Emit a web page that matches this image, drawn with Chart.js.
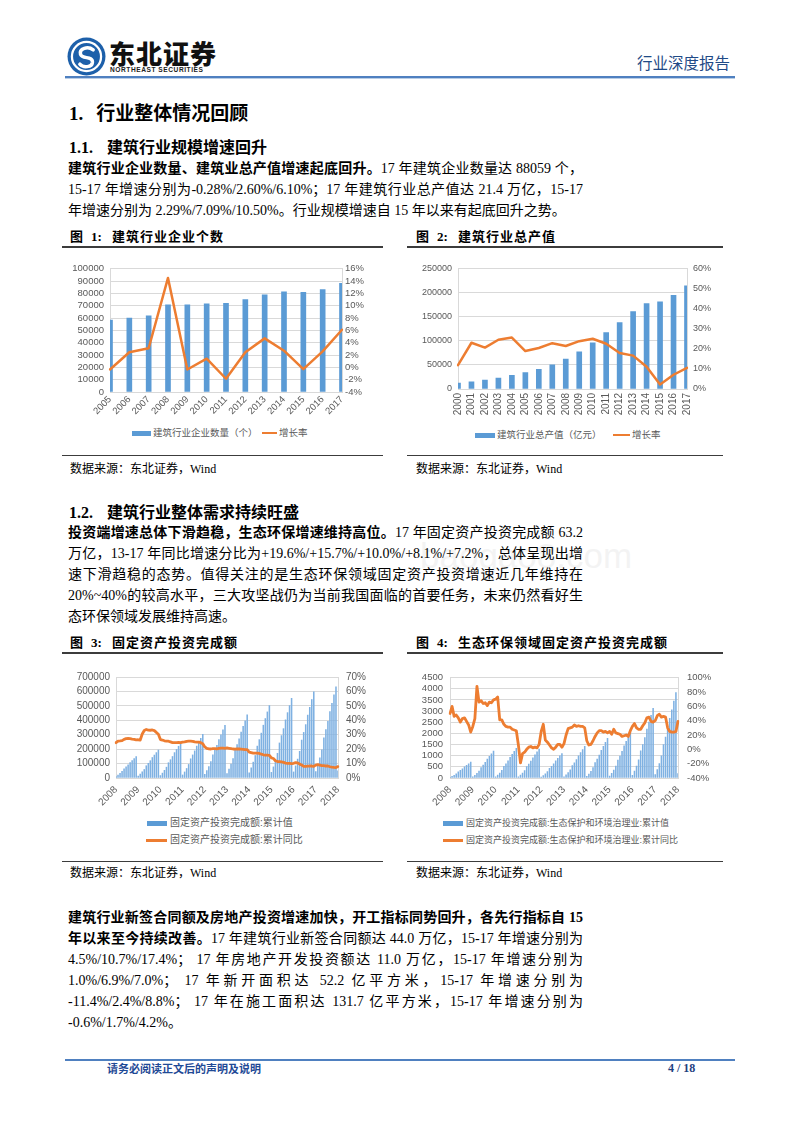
<!DOCTYPE html>
<html><head><meta charset="utf-8">
<script src="https://cdn.jsdelivr.net/npm/chart.js@4.4.1/dist/chart.umd.min.js"></script>
<style>
html,body{margin:0;padding:0;background:#fff;}
#page{position:relative;width:800px;height:1132px;overflow:hidden;background:#fff;font-family:"Liberation Serif","Noto Sans CJK SC",serif;color:#000;}
.a{position:absolute;white-space:nowrap;}
.h1{font-size:19px;line-height:26px;font-weight:bold;}
.h2{font-size:16px;line-height:22px;font-weight:bold;}
.para{position:absolute;left:68px;width:515px;font-size:14px;}
.para div{height:21px;line-height:21px;text-align:justify;text-align-last:justify;}
.para div.last{text-align-last:left;}
.ft{font-size:13px;font-weight:bold;line-height:18px;}
.ft .n{position:absolute;left:21px;top:0;}
.ft .t{position:absolute;left:42px;top:0;letter-spacing:1px;}
.rule{position:absolute;height:0;border-top:2px solid #3c3c3c;}
.rule2{position:absolute;height:0;border-top:1.5px solid #3c3c3c;}
.src{font-size:12px;line-height:16px;}
.cw{position:absolute;}
.lg{position:absolute;white-space:nowrap;font-family:"Liberation Sans","Noto Sans CJK SC",sans-serif;color:#595959;}
.sw{position:absolute;}
.wm{position:absolute;font-family:"Liberation Sans",sans-serif;font-size:35px;color:#000;opacity:0.045;white-space:nowrap;}
</style></head>
<body>
<div id="page">
<!-- header -->
<svg style="position:absolute;left:67px;top:37px" width="39" height="39" viewBox="0 0 38 38">
<circle cx="19" cy="19" r="18.5" fill="#1d60aa"/>
<circle cx="19" cy="19" r="14.2" fill="none" stroke="#fff" stroke-width="2.2"/>
<path d="M25.5 12.5 C 20.5 8.5, 11.5 11, 13.2 17 C 15 22, 25 18, 24.8 24.5 C 24.5 29.5, 16 30.5, 12.5 26.5" fill="none" stroke="#fff" stroke-width="3.4" stroke-linecap="round"/>
</svg>
<div class="a" style="left:109px;top:37px;font-family:'Noto Sans CJK SC';font-weight:900;font-size:26px;line-height:32px;letter-spacing:1px;color:#111;">东北证券</div>
<div class="a" style="left:110px;top:66px;font-family:'Liberation Sans';font-weight:bold;font-size:6.6px;line-height:8px;letter-spacing:0.55px;color:#222;">NORTHEAST SECURITIES</div>
<div class="a" style="left:637px;top:52px;font-family:'Noto Sans CJK SC';font-size:15.5px;line-height:20px;color:#1f4a86;">行业深度报告</div>
<div style="position:absolute;left:65px;top:76px;width:670px;height:2px;background:#4f80c0;"></div>
<div style="position:absolute;left:65px;top:78px;width:670px;height:1px;background:#b9cde6;"></div>

<div class="wm" style="left:420px;top:536px;">baogao8.com</div>

<div class="a h1" style="left:69px;top:101px;">1.<span style="margin-left:13px">行业整体情况回顾</span></div>
<div class="a h2" style="left:69px;top:137px;">1.1.<span style="margin-left:14px">建筑行业规模增速回升</span></div>
<div class="para" style="top:158px;">
<div><b>建筑行业企业数量、建筑业总产值增速起底回升。</b>17 年建筑企业数量达 88059 个，</div>
<div>15-17 年增速分别为-0.28%/2.60%/6.10%；17 年建筑行业总产值达 21.4 万亿，15-17</div>
<div class="last">年增速分别为 2.29%/7.09%/10.50%。行业规模增速自 15 年以来有起底回升之势。</div>
</div>

<!-- fig 1 & 2 titles -->
<div class="a ft" style="left:70px;top:228px;">图<span class="n">1:</span><span class="t">建筑行业企业个数</span></div>
<div class="rule" style="left:62px;top:246px;width:321px;"></div>
<div class="a ft" style="left:416px;top:228px;">图<span class="n">2:</span><span class="t">建筑行业总产值</span></div>
<div class="rule" style="left:407px;top:246px;width:316px;"></div>

<div class="cw" style="left:62px;top:257px;width:321px;height:163px;"><canvas id="c1"></canvas></div>
<div class="cw" style="left:407px;top:257px;width:316px;height:168px;"><canvas id="c2"></canvas></div>

<!-- legends 1 & 2 -->
<div class="sw" style="left:132px;top:430.5px;width:19px;height:5px;background:#5b9bd5;"></div>
<div class="lg" style="left:153px;top:426px;font-size:9.5px;line-height:14px;">建筑行业企业数量（个）</div>
<div class="sw" style="left:262px;top:431.8px;width:15px;height:2.5px;background:#ed7d31;"></div>
<div class="lg" style="left:279px;top:426px;font-size:9.5px;line-height:14px;">增长率</div>

<div class="sw" style="left:475px;top:432.5px;width:20px;height:5px;background:#5b9bd5;"></div>
<div class="lg" style="left:497px;top:428px;font-size:9.5px;line-height:14px;">建筑行业总产值（亿元）</div>
<div class="sw" style="left:613px;top:433.8px;width:17px;height:2.5px;background:#ed7d31;"></div>
<div class="lg" style="left:632px;top:428px;font-size:9.5px;line-height:14px;">增长率</div>

<div class="rule2" style="left:62px;top:455px;width:321px;"></div>
<div class="rule2" style="left:407px;top:455px;width:316px;"></div>
<div class="a src" style="left:70px;top:461px;">数据来源：东北证券，Wind</div>
<div class="a src" style="left:416px;top:461px;">数据来源：东北证券，Wind</div>

<div class="a h2" style="left:69px;top:502px;">1.2.<span style="margin-left:14px">建筑行业整体需求持续旺盛</span></div>
<div class="para" style="top:522px;">
<div><b>投资端增速总体下滑趋稳，生态环保增速维持高位。</b>17 年固定资产投资完成额 63.2</div>
<div>万亿，13-17 年同比增速分比为+19.6%/+15.7%/+10.0%/+8.1%/+7.2%，总体呈现出增</div>
<div>速下滑趋稳的态势。值得关注的是生态环保领域固定资产投资增速近几年维持在</div>
<div>20%~40%的较高水平，三大攻坚战仍为当前我国面临的首要任务，未来仍然看好生</div>
<div class="last">态环保领域发展维持高速。</div>
</div>

<!-- fig 3 & 4 -->
<div class="a ft" style="left:70px;top:634px;">图<span class="n">3:</span><span class="t">固定资产投资完成额</span></div>
<div class="rule" style="left:62px;top:652px;width:321px;"></div>
<div class="a ft" style="left:416px;top:634px;">图<span class="n">4:</span><span class="t">生态环保领域固定资产投资完成额</span></div>
<div class="rule" style="left:407px;top:652px;width:316px;"></div>

<div class="cw" style="left:62px;top:663px;width:321px;height:145px;"><canvas id="c3"></canvas></div>
<div class="cw" style="left:407px;top:663px;width:316px;height:145px;"><canvas id="c4"></canvas></div>

<div class="sw" style="left:147px;top:820.5px;width:20px;height:5px;background:#5b9bd5;"></div>
<div class="lg" style="left:170px;top:816px;font-size:10px;line-height:14px;">固定资产投资完成额:累计值</div>
<div class="sw" style="left:146px;top:838.5px;width:21px;height:3px;background:#ed7d31;"></div>
<div class="lg" style="left:170px;top:833px;font-size:10px;line-height:14px;">固定资产投资完成额:累计同比</div>

<div class="sw" style="left:443px;top:820.5px;width:20px;height:5px;background:#5b9bd5;"></div>
<div class="lg" style="left:466px;top:816px;font-size:9px;line-height:14px;">固定资产投资完成额:生态保护和环境治理业:累计值</div>
<div class="sw" style="left:443px;top:838.5px;width:20px;height:3px;background:#ed7d31;"></div>
<div class="lg" style="left:466px;top:833px;font-size:9px;line-height:14px;">固定资产投资完成额:生态保护和环境治理业:累计同比</div>

<div class="rule2" style="left:62px;top:861px;width:321px;"></div>
<div class="rule2" style="left:407px;top:861px;width:316px;"></div>
<div class="a src" style="left:70px;top:865px;">数据来源：东北证券，Wind</div>
<div class="a src" style="left:416px;top:865px;">数据来源：东北证券，Wind</div>

<div class="para" style="top:907px;">
<div><b>建筑行业新签合同额及房地产投资增速加快，开工指标同势回升，各先行指标自 15</b></div>
<div><b>年以来至今持续改善。</b>17 年建筑行业新签合同额达 44.0 万亿，15-17 年增速分别为</div>
<div>4.5%/10.7%/17.4%； 17 年房地产开发投资额达 11.0 万亿，15-17 年增速分别为</div>
<div>1.0%/6.9%/7.0%； 17 年新开面积达 52.2 亿平方米，15-17 年增速分别为</div>
<div>-11.4%/2.4%/8.8%； 17 年在施工面积达 131.7 亿平方米，15-17 年增速分别为</div>
<div class="last">-0.6%/1.7%/4.2%。</div>
</div>

<!-- footer -->
<div style="position:absolute;left:65px;top:1059px;width:670px;height:1.5px;background:#4f80c0;"></div>
<div class="a" style="left:107px;top:1060px;font-family:'Noto Sans CJK SC';font-weight:bold;font-size:11px;line-height:16px;color:#1f4a96;">请务必阅读正文后的声明及说明</div>
<div class="a" style="left:668px;top:1060px;font-family:'Liberation Serif';font-weight:bold;font-size:12px;line-height:16px;color:#1f3f80;">4 / 18</div>
</div>

<script>
// ---------- Chart 1: 建筑行业企业个数 ----------
const c1Years = ['2005','2006','2007','2008','2009','2010','2011','2012','2013','2014','2015','2016','2017'];
const c1Count = [58300, 59900, 61800, 70700, 70700, 71500, 72000, 75000, 78800, 81200, 80897, 83000, 88059];
const c1Growth = [-0.35, 2.45, 3.1, 14.5, -0.35, 1.4, -1.85, 2.45, 4.7, 2.7, -0.28, 2.6, 6.1];

// ---------- Chart 2: 建筑行业总产值 ----------
const c2Years = ['2000','2001','2002','2003','2004','2005','2006','2007','2008','2009','2010','2011','2012','2013','2014','2015','2016','2017'];
const c2Output = [12200, 14700, 18300, 22400, 28500, 34000, 40800, 50300, 61800, 76800, 95800, 116800, 137900, 160300, 177300, 180700, 194300, 214000];
const c2Growth = [11.9, 23.0, 20.6, 24.5, 25.6, 18.9, 20.4, 22.8, 21.4, 23.8, 25.0, 22.5, 17.9, 16.6, 11.1, 2.29, 7.09, 10.5];

// ---------- Charts 3 & 4: monthly (Feb-Dec each year) ----------
const monthYears = ['2008','2009','2010','2011','2012','2013','2014','2015','2016','2017'];
const monthList = ['02','03','04','05','06','07','08','09','10','11','12'];
const lastMonths = ['2018-02'];

const c3Values = [
  10000, 21000, 33000, 46000, 64000, 78000, 92000, 107000, 121000, 135000, 148000,
  14000, 27000, 43000, 59000, 85000, 102000, 120000, 142000, 159000, 176000, 194000,
  17000, 34000, 53000, 75000, 106000, 127000, 149000, 176000, 198000, 220000, 241000,
  21000, 42000, 66000, 94000, 133000, 160000, 188000, 221000, 248000, 275000, 302000,
  26000, 51000, 80000, 113000, 161000, 194000, 226000, 266000, 299000, 333000, 365000,
  31000, 61000, 96000, 135000, 192000, 232000, 271000, 319000, 358000, 397000, 437000,
  35000, 70000, 110000, 156000, 221000, 266000, 311000, 366000, 412000, 458000, 502000,
  39000, 77000, 121000, 171000, 243000, 294000, 342000, 403000, 453000, 502000, 552000,
  42000, 84000, 131000, 185000, 263000, 316000, 370000, 436000, 490000, 544000, 597000,
  44000, 89000, 139000, 196000, 278000, 336000, 392000, 461000, 518000, 576000, 632000,
  50000
];
const c3Yoy = [
  24.5, 25.6, 25.7, 25.9, 26.8, 27.3, 27.4, 27.3, 27.0, 26.8, 26.4,
  26.5, 26.3, 30.5, 32.9, 33.6, 33.2, 33.1, 33.3, 32.8, 31.6, 30.3,
  26.6, 26.3, 25.8, 25.6, 25.5, 25.0, 24.5, 24.5, 24.5, 24.6, 24.5,
  24.9, 25.0, 25.4, 25.6, 25.6, 25.4, 25.0, 24.9, 24.9, 24.5, 23.8,
  21.5, 20.5, 20.2, 20.1, 20.4, 20.4, 20.2, 20.5, 20.7, 20.7, 20.6,
  20.8, 20.6, 20.4, 20.1, 20.0, 20.2, 20.1, 20.0, 19.8, 19.6, 19.6,
  17.9, 17.6, 17.3, 17.2, 17.3, 17.0, 16.5, 16.1, 15.9, 15.8, 15.7,
  13.9, 13.5, 12.0, 11.4, 11.4, 11.2, 10.9, 10.3, 10.2, 10.2, 10.0,
  10.2, 10.7, 10.5, 9.6, 9.0, 8.1, 8.1, 8.2, 8.3, 8.3, 8.1,
  8.9, 9.2, 8.9, 8.6, 8.6, 8.3, 8.3, 7.8, 7.5, 7.3, 7.2,
  7.9
];

const c4Values = [
  28, 71, 121, 185, 277, 341, 412, 497, 568, 639, 710,
  48, 121, 206, 315, 472, 581, 702, 847, 968, 1089, 1210,
  53, 133, 226, 346, 519, 638, 771, 931, 1064, 1197, 1330,
  52, 130, 221, 338, 507, 624, 754, 910, 1040, 1170, 1300,
  44, 110, 187, 286, 429, 528, 638, 770, 880, 990, 1100,
  57, 142, 241, 369, 554, 682, 824, 994, 1136, 1278, 1420,
  71, 178, 303, 463, 694, 854, 1032, 1246, 1424, 1602, 1780,
  82, 206, 350, 536, 803, 989, 1195, 1442, 1648, 1854, 2060,
  125, 313, 532, 814, 1221, 1502, 1815, 2191, 2504, 2817, 3130,
  153, 383, 651, 996, 1494, 1838, 2221, 2681, 3064, 3447, 3830,
  200
];
const c4Yoy = [
  50, 60, 46, 48, 44, 38, 43, 44, 39, 34, 24,
  32, 43, 88, 66, 68, 64, 65, 61, 66, 65, 69,
  70, 73, 41, 41, 35, 32, 31, 31, 28, 27, 26,
  6, -19, -6, -4, 0, 3, 4, 2, 3, 2, 7,
  25, 35, 13, 10, 6, 2, 0, 3, 7, 7, 3,
  8, 20, 29, 30, 31, 34, 32, 33, 32, 32, 30,
  12, 6, 7, 12, 18, 23, 26, 26, 24, 25, 23,
  25, 21, 28, 23, 22, 21, 18, 19, 20, 18, 26,
  32, 36, 30, 28, 28, 33, 37, 44, 45, 39, 38,
  40, 47, 49, 45, 46, 45, 30, 25, 24, 24, 25,
  39
];

const monthCats = [];
monthYears.forEach(y => monthList.forEach(m => monthCats.push(y + '-' + m)));
lastMonths.forEach(m => monthCats.push(m));

// ---------- common ----------
Chart.defaults.font.family = '"Liberation Sans","Noto Sans CJK SC",sans-serif';
Chart.defaults.color = '#595959';
const GRID = '#d9d9d9';
const ORANGE = '#ed7d31';
const BLUE = '#5b9bd5';

function build(id, o) {
  return new Chart(document.getElementById(id), {
    type: 'bar',
    data: {
      labels: o.labels,
      datasets: [
        { type: 'line', data: o.line, yAxisID: 'y1', borderColor: ORANGE, borderWidth: o.lw,
          pointRadius: 0, tension: 0, fill: false, order: 0, borderJoinStyle: 'round', borderCapStyle: 'round' },
        { type: 'bar', data: o.bars, yAxisID: 'y', backgroundColor: o.barColor || BLUE,
          barThickness: o.bt, order: 1 }
      ]
    },
    options: {
      responsive: true, maintainAspectRatio: false, animation: false,
      layout: { padding: { top: o.top, left: 0, right: 0, bottom: 0 } },
      plugins: { legend: { display: false }, tooltip: { enabled: false } },
      scales: {
        x: {
          offset: false,
          grid: { display: false, drawTicks: false },
          border: { display: true, color: GRID },
          ticks: { autoSkip: false, minRotation: o.rot, maxRotation: o.rot, padding: o.xpad,
                   font: { size: o.xfs }, color: '#595959',
                   callback: o.xcb || function (v, i) { return o.labels[i]; } },
          afterFit: s => { s.height = o.xh; }
        },
        y: {
          position: 'left', min: o.ymin, max: o.ymax,
          grid: { color: GRID, drawTicks: false, lineWidth: 1 },
          border: { display: true, color: GRID },
          ticks: { autoSkip: false, stepSize: o.ystep, padding: o.ypad, font: { size: o.yfs }, color: '#595959',
                   callback: v => String(v) },
          afterFit: s => { s.width = o.yw; }
        },
        y1: {
          position: 'right', min: o.y1min, max: o.y1max,
          grid: { display: false, drawTicks: false },
          border: { display: true, color: GRID },
          ticks: { autoSkip: false, stepSize: o.y1step, padding: o.y1pad, font: { size: o.yfs }, color: '#595959',
                   callback: v => Math.round(v) + '%' },
          afterFit: s => { s.width = o.y1w; }
        }
      }
    }
  });
}

build('c1', { labels: c1Years, bars: c1Count, line: c1Growth, lw: 2.5, bt: 5, top: 10,
  rot: 45, xpad: 2, xfs: 9.5, xh: 28, ymin: 0, ymax: 100000, ystep: 10000, ypad: 6, yfs: 9.5, yw: 48,
  y1min: -4, y1max: 16, y1step: 2, y1pad: 3, y1w: 41 });

build('c2', { labels: c2Years, bars: c2Output, line: c2Growth, lw: 2.5, bt: 5, top: 10,
  rot: 90, xpad: 4, xfs: 10, xh: 36, ymin: 0, ymax: 250000, ystep: 50000, ypad: 6, yfs: 9, yw: 51,
  y1min: 0, y1max: 60, y1step: 10, y1pad: 6, y1w: 36 });

const yearCb = function (v, i) {
  const c = monthCats[i];
  return c.endsWith('-02') ? c.slice(0, 4) : '';
};

build('c3', { labels: monthCats, bars: c3Values, line: c3Yoy, lw: 2.8, bt: 0.9, top: 10, barColor: '#7fb1e2',
  rot: 45, xpad: 6, xfs: 10, xh: 30, xcb: yearCb, ymin: 0, ymax: 700000, ystep: 100000, ypad: 6, yfs: 10, yw: 54,
  y1min: 0, y1max: 70, y1step: 10, y1pad: 8, y1w: 45 });

build('c4', { labels: monthCats, bars: c4Values, line: c4Yoy, lw: 2.8, bt: 0.9, top: 10, barColor: '#7fb1e2',
  rot: 45, xpad: 6, xfs: 10, xh: 30, xcb: yearCb, ymin: 0, ymax: 4500, ystep: 500, ypad: 7, yfs: 9.5, yw: 43,
  y1min: -40, y1max: 100, y1step: 20, y1pad: 9, y1w: 45 });
</script>
</body></html>
